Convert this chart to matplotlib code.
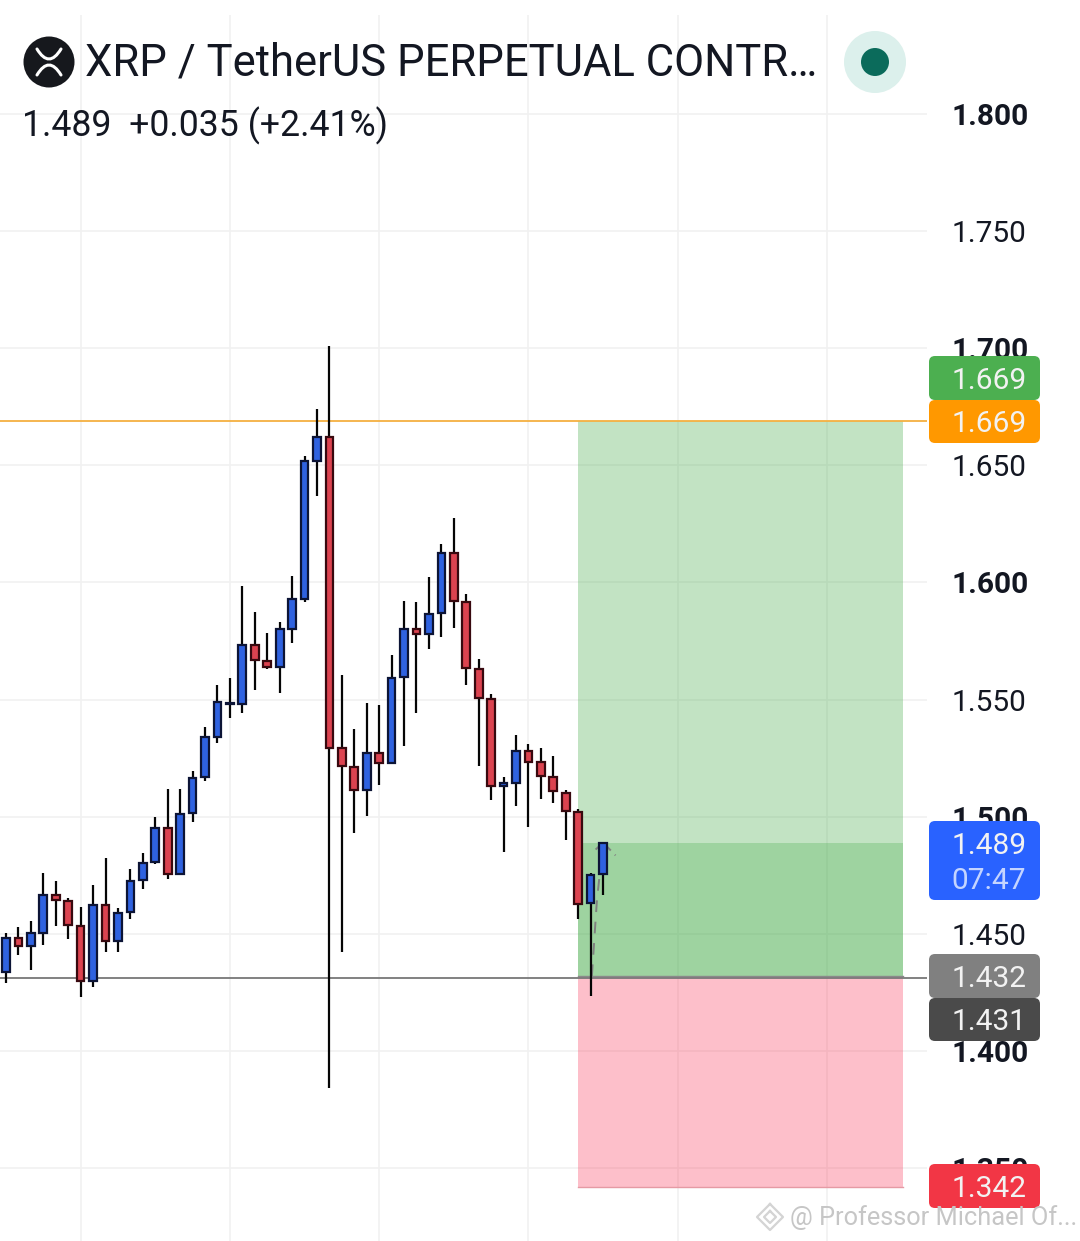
import matplotlib
matplotlib.use("Agg")
import matplotlib.pyplot as plt
from matplotlib.patches import Circle, FancyBboxPatch, PathPatch, Rectangle
from matplotlib.path import Path

plt.rcParams['font.family'] = ['Roboto', 'DejaVu Sans']

title = "XRP / TetherUS PERPETUAL CONTR…"
subtitle = "1.489  +0.035 (+2.41%)"
watermark = "@ Professor Michael Of..."

opens = [1.4337,1.4482,1.4448,1.4503,1.4665,1.4640,1.4533,1.4298,1.4623,1.4469,
         1.4593,1.4729,1.4806,1.4951,1.4755,1.5015,1.5169,1.5340,1.5480,1.5481,
         1.5733,1.5665,1.5639,1.5801,1.5929,1.6519,1.6621,1.5293,1.5212,1.5114,
         1.5272,1.5229,1.5596,1.5801,1.5780,1.5869,1.6126,1.5917,1.5630,1.5502,
         1.5131,1.5144,1.5280,1.5233,1.5169,1.5101,1.5020,1.4631,1.4755]
closes = [1.4482,1.4448,1.4503,1.4665,1.4644,1.4537,1.4298,1.4623,1.4469,1.4588,
          1.4725,1.4802,1.4951,1.4755,1.5011,1.5165,1.5340,1.5489,1.5485,1.5733,
          1.5669,1.5639,1.5801,1.5929,1.6519,1.6621,1.5293,1.5216,1.5114,1.5272,
          1.5229,1.5592,1.5801,1.5780,1.5865,1.6126,1.5921,1.5635,1.5507,1.5131,
          1.5144,1.5280,1.5233,1.5173,1.5109,1.5024,1.4627,1.4751,1.4887]
highs = [1.4503,1.4529,1.4554,1.4759,1.4725,1.4653,1.4614,1.4708,1.4823,1.4610,
         1.4776,1.4845,1.4998,1.5118,1.5118,1.5195,1.5383,1.5562,1.5592,1.5985,
         1.5874,1.5784,1.5831,1.6027,1.6540,1.6741,1.7010,1.5605,1.5374,1.5485,
         1.5477,1.5690,1.5921,1.5917,1.6023,1.6164,1.6275,1.5951,1.5673,1.5524,
         1.5169,1.5349,1.5310,1.5293,1.5259,1.5114,1.5033,1.4759,1.4892]
lows = [1.4290,1.4409,1.4345,1.4452,1.4533,1.4477,1.4230,1.4273,1.4422,1.4422,
        1.4563,1.4691,1.4798,1.4734,1.4751,1.4977,1.5152,1.5314,1.5421,1.5442,
        1.5541,1.5630,1.5528,1.5741,1.5916,1.6369,1.3841,1.4422,1.4930,1.5003,
        1.5135,1.5225,1.5302,1.5442,1.5716,1.5767,1.5805,1.5562,1.5216,1.5071,
        1.4849,1.5045,1.4956,1.5075,1.5058,1.4900,1.4563,1.4234,1.4665]

price_ticks = [1.35, 1.40, 1.45, 1.50, 1.55, 1.60, 1.65, 1.70, 1.75, 1.80]
bold_ticks = [1.35, 1.40, 1.50, 1.60, 1.70, 1.80]
time_ticks = [6, 18, 30, 42, 54, 66]

last_price = 1.489
target_price = 1.669
entry_price = 1.432
mark_price = 1.431
stop_price = 1.342
tool_start = 46
tool_end = 72.1

badges = [("1.669", None, "#4caf50", 356, 400),
          ("1.669", None, "#ff9800", 400, 443),
          ("1.489", "07:47", "#2962ff", 821, 900),
          ("1.432", None, "#808080", 954, 998),
          ("1.431", None, "#4a4a4a", 998, 1041),
          ("1.342", None, "#f23645", 1164, 1208)]

W, H = 1080, 1241
fig = plt.figure(figsize=(W/100, H/100), dpi=100, facecolor="white")
ax = fig.add_axes([0, 0, 927/W, (H-15)/H])
ax.set_xlim(-0.482, 74.04)
ax.set_ylim(1.31889, 1.84226)
for s in ax.spines.values():
    s.set_visible(False)
ax.set_axisbelow(True)
ax.grid(True, color="#f1f1f1", lw=1.2)
ax.set_xticks(time_ticks)
ax.set_xticklabels([])
ax.yaxis.tick_right()
ax.set_yticks(price_ticks)
ax.set_yticklabels([f"{p:.3f}" for p in price_ticks])
ax.tick_params(axis='both', length=0)
ax.tick_params(axis='y', pad=18, labelsize=21.5, labelcolor="#131722")
for lab, p in zip(ax.get_yticklabels(), price_ticks):
    if p in bold_ticks:
        lab.set_fontweight("bold")

# position tool
ax.add_patch(Rectangle((tool_start, entry_price), tool_end-tool_start, target_price-entry_price,
                       fc="#4caf50", alpha=0.34, lw=0, zorder=1))
ax.add_patch(Rectangle((tool_start, entry_price), tool_end-tool_start, last_price-entry_price,
                       fc="#4caf50", alpha=0.3, lw=0, zorder=1))
ax.add_patch(Rectangle((tool_start, stop_price), tool_end-tool_start, entry_price-stop_price,
                       fc="#fb2d50", alpha=0.3, lw=0, zorder=1))
ax.plot([tool_start, tool_end], [stop_price]*2, color="#e59aa4", lw=1, zorder=1.5)
ax.plot([tool_start, tool_end], [entry_price]*2, color="#8a8a8a", lw=1, zorder=1.5)

ax.axhline(target_price, color="#f5b041", lw=1.3, zorder=2)
ax.axhline(mark_price, color="#777777", lw=1.3, zorder=2)

# projected path arrow
ax.plot([47.1, 47.5, 48.0], [entry_price, 1.4640, last_price], color="#808080", lw=1.4,
        ls=(0, (6, 5)), zorder=2.5)
ax.plot([47.4, 48.0, 49.0], [1.4860, last_price, 1.4835], color="#808080", lw=1.4,
        ls=(0, (4, 3)), zorder=2.5)

# candles
xs = list(range(len(opens)))
colors = ["#2f62e0" if c >= o else "#dc4350" for o, c in zip(opens, closes)]
edges = ["#0c1436" if c >= o else "#38090f" for o, c in zip(opens, closes)]
ax.vlines(xs, lows, highs, color="#050505", lw=1.6, zorder=3)
ax.bar(xs, [abs(c-o) for o, c in zip(opens, closes)],
       bottom=[min(o, c) for o, c in zip(opens, closes)],
       width=0.62, color=colors, edgecolor=edges, linewidth=1.6, zorder=4)

# overlay in pixel coordinates
ov = fig.add_axes([0, 0, 1, 1], zorder=10)
ov.set_xlim(0, W)
ov.set_ylim(H, 0)
ov.axis("off")
ov.patch.set_alpha(0)

ov.add_patch(Circle((49, 62), 25.5, fc="#16181d", lw=0))
for a, b, c in [((37, 49), (49, 69), (61, 49)), ((37, 75), (49, 55), (61, 75))]:
    ov.add_patch(PathPatch(Path([a, b, c], [Path.MOVETO, Path.CURVE3, Path.CURVE3]),
                           fc="none", ec="white", lw=2.2, capstyle="round"))
ov.text(85, 76, title, fontsize=31.4, color="#131722", va="baseline", ha="left")
ov.text(22, 136, subtitle, fontsize=25.7, color="#131722", va="baseline", ha="left")
ov.add_patch(Circle((875, 62), 31, fc="#dcf0ec", lw=0))
ov.add_patch(Circle((875, 62), 14, fc="#0b6b5b", lw=0))

for txt, sub, col, y0, y1 in badges:
    ov.add_patch(FancyBboxPatch((929+6, y0+6), 111-12, y1-y0-12,
                                boxstyle="round,pad=6,rounding_size=6", fc=col, lw=0))
    if sub is None:
        ov.text(989, (y0+y1)/2, txt, color="#f2f2f2", fontsize=21.5, ha="center", va="center_baseline")
    else:
        ov.text(989, y0+22, txt, color="#f2f2f2", fontsize=21.5, ha="center", va="center_baseline")
        ov.text(989, y0+57, sub, color="#c4d4ff", fontsize=21.5, ha="center", va="center_baseline")

# watermark
ov.plot([770, 783, 770, 757, 770], [1204, 1217, 1230, 1217, 1204], color="#d4d4d4", lw=1.6)
ov.plot([770, 776, 770, 764, 770], [1211, 1217, 1223, 1217, 1211], color="#d4d4d4", lw=1.6)
ov.text(790, 1225, watermark, color="#c6c6c6", fontsize=18.3, ha="left", va="baseline")

fig.savefig("out.png", dpi=100)
